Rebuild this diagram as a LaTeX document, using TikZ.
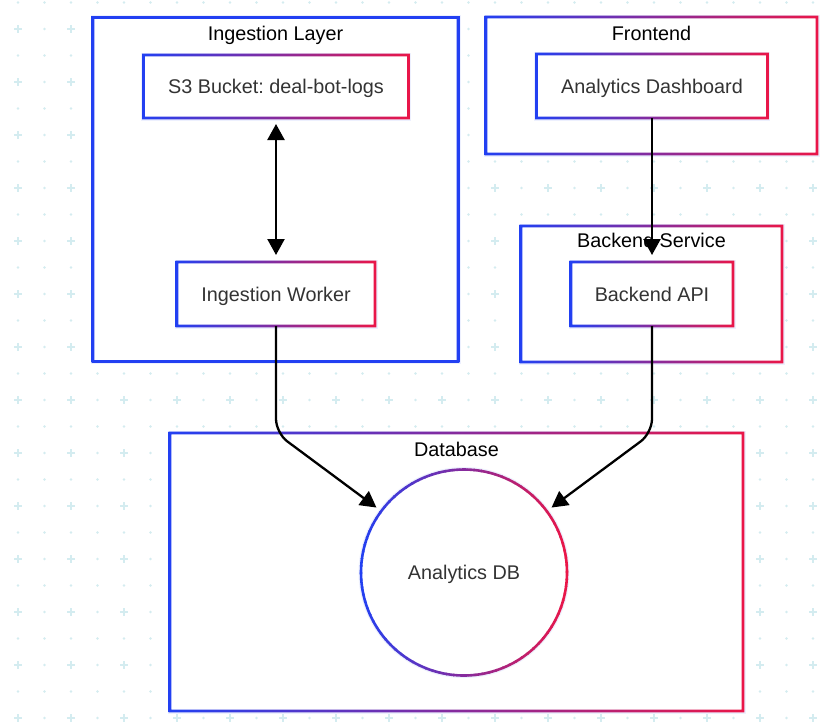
\documentclass[tikz,border=0pt]{standalone}
\usepackage{fontspec}
\setmainfont{Liberation Sans}
\usetikzlibrary{arrows.meta}
\definecolor{cblue}{RGB}{34,64,242}
\definecolor{cred}{RGB}{234,22,72}
\definecolor{gridc}{RGB}{212,236,240}
\definecolor{txtc}{RGB}{51,51,51}
\pgfdeclarelayer{bg}
\pgfdeclarelayer{fg}
\pgfsetlayers{bg,main,fg}
\newcommand{\gradrect}[3]{%
  \draw[line width=5pt, cblue!8] (#1.south west) rectangle (#1.north east);
  \fill[white] (#1.south west) rectangle (#1.north east);
  \shade[even odd rule, left color=#2, right color=#3]
    ([shift={(-1.3,1.3)}]#1.south west) rectangle ([shift={(1.3,-1.3)}]#1.north east)
    ([shift={(1.3,-1.3)}]#1.south west) rectangle ([shift={(-1.3,1.3)}]#1.north east);}
\frenchspacing
\begin{document}
\begin{tikzpicture}[x=1pt,y=-1pt,
  box/.style={rectangle, draw=none, inner sep=0pt, outer sep=0pt, text=txtc,
    font=\fontsize{19.8}{23}\selectfont, text height=17pt, text depth=3pt, align=center},
  ttl/.style={anchor=base, inner sep=0pt, outer sep=0pt, text=black, font=\fontsize{19.8}{23}\selectfont},
  >={Triangle[length=16pt,width=17pt]},
  arr/.style={line width=2.3pt, ->, black}]
\useasboundingbox (0,0) rectangle (834,726);
% cluster nodes
\node[box, minimum width=365pt, minimum height=344pt] (ingL) at (275.5,189.5) {};
\node[box, minimum width=331pt, minimum height=137pt] (front) at (651.5,85.5) {};
\node[box, minimum width=261pt, minimum height=136pt] (back) at (651.5,294) {};
\node[box, minimum width=573pt, minimum height=278pt] (dbc) at (456.5,572) {};
% titles
\node[ttl] (ingT) at (275.5,40) {Ingestion Layer};
\node[ttl] (frontT) at (651.5,40) {Frontend};
\node[ttl] (backT) at (651.5,247) {Backend Service};
\node[ttl] (dbT) at (456.5,456) {Database};
% inner nodes
\node[box, minimum width=265pt, minimum height=63pt] (s3) at (276,86.5) {S3 Bucket: deal-bot-logs};
\node[box, minimum width=198pt, minimum height=64pt] (worker) at (276,294) {Ingestion Worker};
\node[box, minimum width=231pt, minimum height=64pt] (dash) at (652,86) {Analytics Dashboard};
\node[box, minimum width=162pt, minimum height=64pt] (api) at (652,294) {Backend API};
\node[box, circle, minimum size=206pt] (db) at (464,572.5) {Analytics DB};
\coordinate (cL) at (276,433);
\coordinate (cR) at (652,433);
\begin{pgfonlayer}{bg}
  \fill[white] (0,0) rectangle (834,726);
  \foreach \i in {0,...,30}{
    \foreach \j in {0,...,27}{
      \fill[gridc] ({18+26.5*\i},{2.5+26.5*\j}) circle[radius=1.3pt];
    }
  }
  \foreach \i in {0,2,...,30}{
    \foreach \j in {1,3,...,27}{
      \draw[gridc, line width=1.4pt] ({18+26.5*\i-4},{2.5+26.5*\j}) -- ++(8,0)
        ({18+26.5*\i},{2.5+26.5*\j-4}) -- ++(0,8);
    }
  }
  \gradrect{ingL}{cblue}{cblue}
  \gradrect{front}{cblue}{cred}
  \gradrect{back}{cblue}{cred}
  \gradrect{dbc}{cblue}{cred}
  \gradrect{s3}{cblue}{cred}
  \gradrect{worker}{cblue}{cred}
  \gradrect{dash}{cblue}{cred}
  \gradrect{api}{cblue}{cred}
  \draw[line width=5pt, cblue!8] (db.center) circle[radius=103pt];
  \fill[white] (db.center) circle[radius=103pt];
  \foreach \a in {0,4,...,356}{
    \pgfmathsetmacro\tr{50*(1+cos(\a+2))}
    \draw[line width=2.6pt, cred!\tr!cblue] (db.center) ++(\a:103pt)
      arc[start angle=\a, end angle=\a+4.6, radius=103pt];
  }
\end{pgfonlayer}
\begin{pgfonlayer}{fg}
  \draw[arr, <->, shorten <=6pt, shorten >=7pt] (s3.south) -- (worker.north);
  \draw[arr, shorten >=7pt] (dash.south) -- (api.north);
  \draw[arr, rounded corners=14pt, shorten >=6pt] (worker.south) -- (cL) -- (db);
  \draw[arr, rounded corners=14pt, shorten >=6pt] (api.south) -- (cR) -- (db);
\end{pgfonlayer}
\end{tikzpicture}
\end{document}
